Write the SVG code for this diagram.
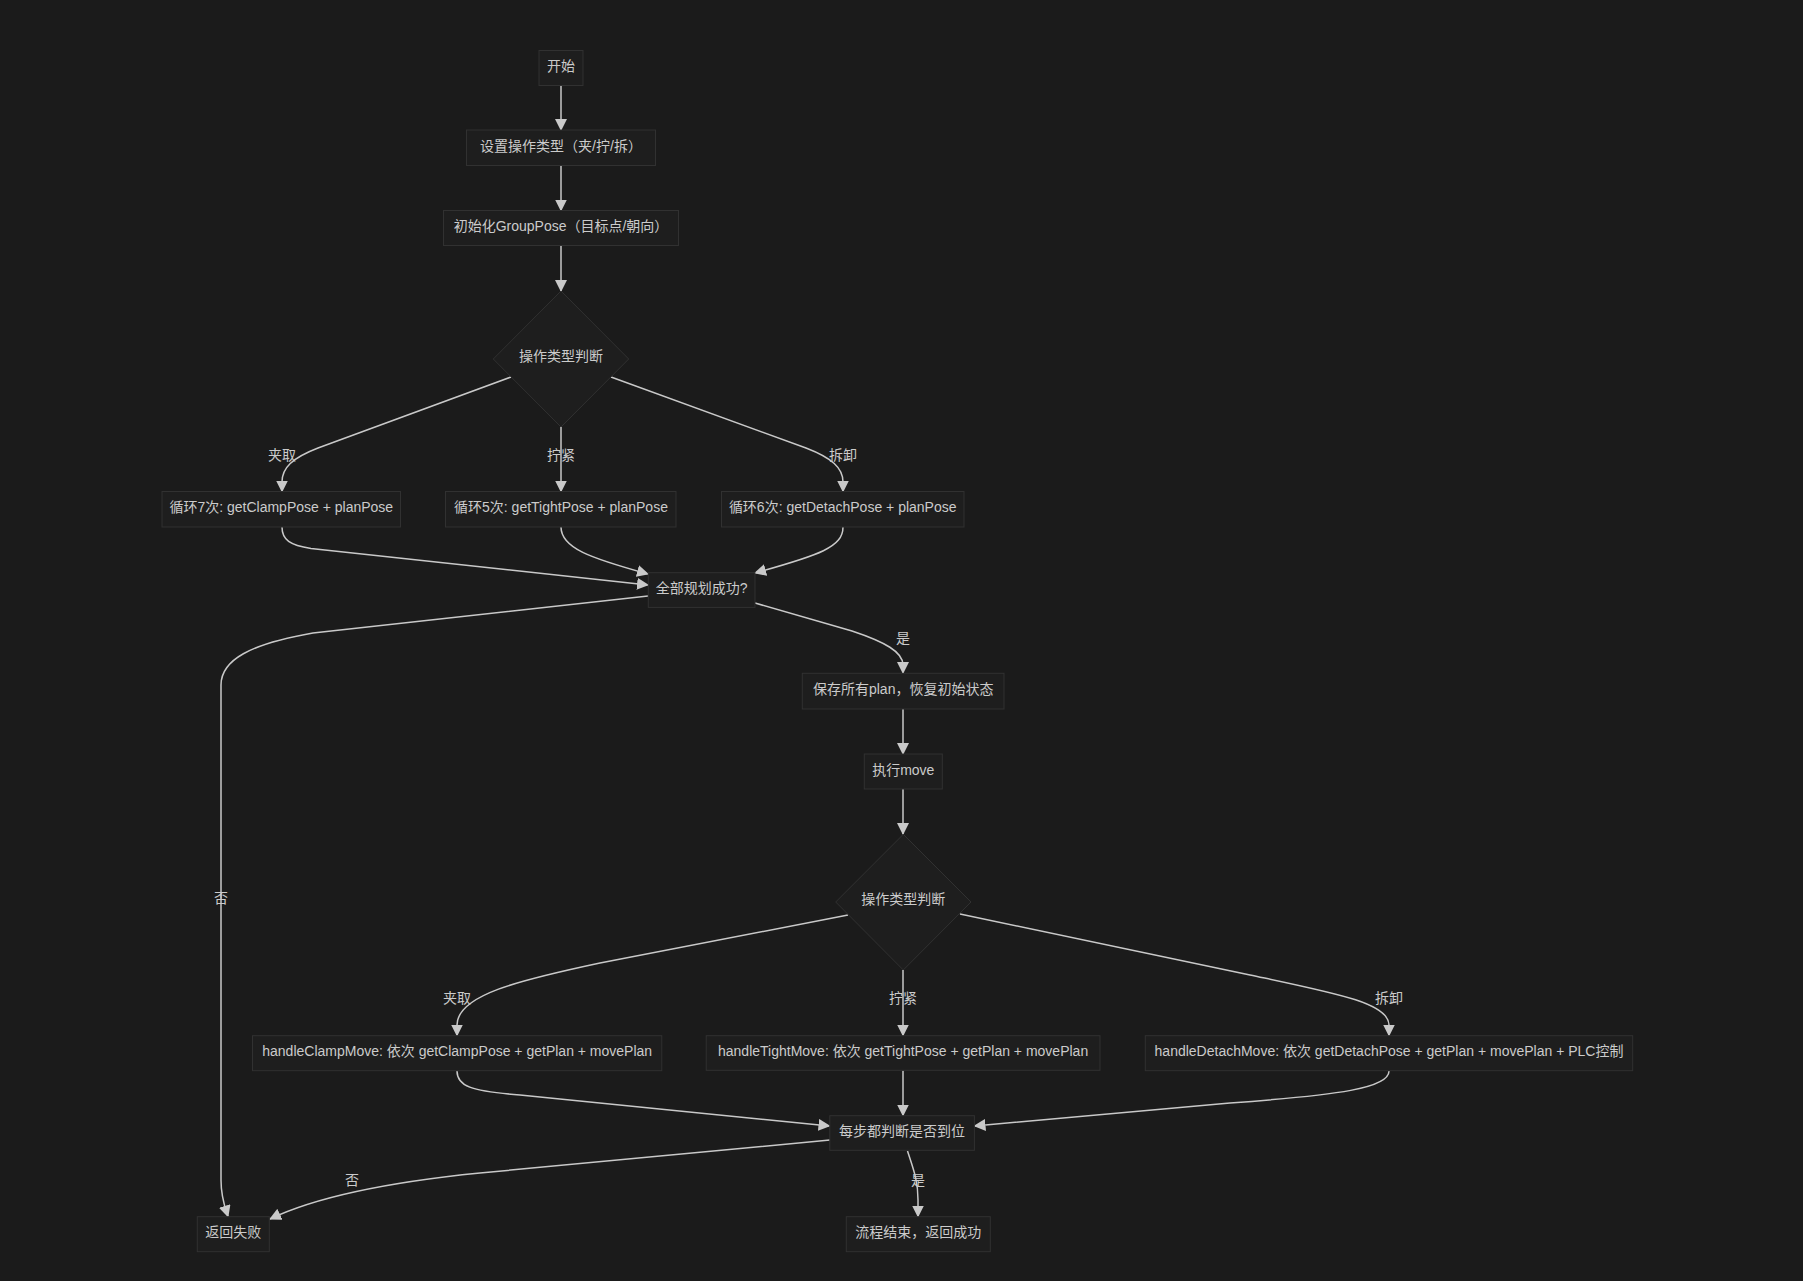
<svg xmlns="http://www.w3.org/2000/svg" width="1803" height="1281" viewBox="0 0 1803 1281">
<defs>
<style>
.bg{fill:#1b1b1b}
.node rect,.node polygon{fill:#1e1e1e;stroke:#313131;stroke-width:1}
.node text{fill:#cbcbcb;font-family:"Liberation Sans","Noto Sans CJK SC",sans-serif;font-size:14px;text-anchor:middle;dominant-baseline:central}
.edges path{fill:none;stroke:#c9c9c9;stroke-width:1.5}
.elabel{fill:#cbcbcb;font-family:"Liberation Sans","Noto Sans CJK SC",sans-serif;font-size:14px;text-anchor:middle;dominant-baseline:central}
</style>
<marker id="arr" viewBox="0 0 12 12" refX="11" refY="6" markerWidth="12" markerHeight="12" markerUnits="userSpaceOnUse" orient="auto">
<path d="M0,0 L12,6 L0,12 z" fill="#c9c9c9"/>
</marker>
</defs>
<rect class="bg" x="0" y="0" width="1803" height="1281"/>

<g class="edges">
<path marker-end="url(#arr)" d="M561,85.5 L561,130"/>
<path marker-end="url(#arr)" d="M561,166 L561,210.5"/>
<path marker-end="url(#arr)" d="M561,246 L561,291"/>
<path marker-end="url(#arr)" d="M511,377 L318,448 C292,458 282,468 282,482 L282,491.5"/>
<path marker-end="url(#arr)" d="M561,427 L561,491.5"/>
<path marker-end="url(#arr)" d="M611,377 L806,448 C832,458 843,468 843,482 L843,491.5"/>
<path marker-end="url(#arr)" d="M282,527 C282,540 290,545 311,548.5 L648,585"/>
<path marker-end="url(#arr)" d="M561,527 C561,548 590,558 648,574"/>
<path marker-end="url(#arr)" d="M843,527 C843,547 820,555 755,573"/>
<path marker-end="url(#arr)" d="M755,603 L852,631 C885,642 903,652 903,665 L903,673"/>
<path marker-end="url(#arr)" d="M648,596 L313,633 C250,644 221,660 221,685 L221,1180 C221,1198 225,1207 228,1216.5"/>
<path marker-end="url(#arr)" d="M903,709 L903,754"/>
<path marker-end="url(#arr)" d="M903,789 L903,834"/>
<path marker-end="url(#arr)" d="M848,915 L600,963 C520,980 457,995 457,1025 L457,1035.5"/>
<path marker-end="url(#arr)" d="M903,970 L903,1035.5"/>
<path marker-end="url(#arr)" d="M960,914 L1250,975 C1335,993 1389,1003 1389,1025 L1389,1035.5"/>
<path marker-end="url(#arr)" d="M457,1071 C457,1086 470,1091 520,1095 L829.5,1126"/>
<path marker-end="url(#arr)" d="M903,1070.5 L903,1115.5"/>
<path marker-end="url(#arr)" d="M1389,1071 C1389,1088 1340,1095 1230,1103 L974.5,1126"/>
<path marker-end="url(#arr)" d="M830,1140 L480,1173 C400,1181 320,1195 270,1219"/>
<path marker-end="url(#arr)" d="M907.5,1151 C913,1168 918,1180 918,1200 L918,1216.5"/>
<text class="elabel" x="282" y="455">夹取</text>
<text class="elabel" x="561" y="455">拧紧</text>
<text class="elabel" x="843" y="455">拆卸</text>
<text class="elabel" x="903" y="637.5">是</text>
<text class="elabel" x="221" y="897.5">否</text>
<text class="elabel" x="457" y="998">夹取</text>
<text class="elabel" x="903" y="998">拧紧</text>
<text class="elabel" x="1389" y="998">拆卸</text>
<text class="elabel" x="352" y="1180">否</text>
<text class="elabel" x="918" y="1180">是</text>
</g>

<g id="start" class="node"><rect x="539" y="50.5" width="44" height="35"/><text x="561" y="66">开始</text></g>
<g id="setType" class="node"><rect x="466.5" y="130" width="189" height="35.5"/><text x="561" y="146">设置操作类型（夹/拧/拆）</text></g>
<g id="initPose" class="node"><rect x="443.5" y="210.5" width="235" height="35"/><text x="561" y="226">初始化GroupPose（目标点/朝向）</text></g>
<g id="judge1" class="node"><polygon points="561,291 628.7,359 561,427 493.3,359"/><text x="561" y="356">操作类型判断</text></g>
<g id="loop7" class="node"><rect x="162" y="491.5" width="238.5" height="35.5"/><text x="281.3" y="507.3">循环7次: getClampPose + planPose</text></g>
<g id="loop5" class="node"><rect x="445.5" y="491.5" width="230.5" height="35.5"/><text x="561" y="507.3">循环5次: getTightPose + planPose</text></g>
<g id="loop6" class="node"><rect x="721.5" y="491.5" width="242.5" height="35.5"/><text x="842.7" y="507.3">循环6次: getDetachPose + planPose</text></g>
<g id="allOk" class="node"><rect x="648.3" y="572.7" width="106.7" height="34.7"/><text x="701.7" y="588">全部规划成功?</text></g>
<g id="save" class="node"><rect x="802.3" y="673.3" width="201.7" height="35.7"/><text x="903.2" y="689.2">保存所有plan，恢复初始状态</text></g>
<g id="exec" class="node"><rect x="864.3" y="754" width="78" height="35"/><text x="903.3" y="769.5">执行move</text></g>
<g id="judge2" class="node"><polygon points="903.3,834.3 971,902 903.3,970 835.7,902"/><text x="903.3" y="899">操作类型判断</text></g>
<g id="hClamp" class="node"><rect x="252.5" y="1035.7" width="409.3" height="35"/><text x="457.2" y="1051.2">handleClampMove: 依次 getClampPose + getPlan + movePlan</text></g>
<g id="hTight" class="node"><rect x="706.2" y="1035.7" width="393.8" height="34.6"/><text x="903.1" y="1051.2">handleTightMove: 依次 getTightPose + getPlan + movePlan</text></g>
<g id="hDetach" class="node"><rect x="1145.3" y="1035.7" width="487.4" height="35"/><text x="1389" y="1051.2">handleDetachMove: 依次 getDetachPose + getPlan + movePlan + PLC控制</text></g>
<g id="checkStep" class="node"><rect x="829.8" y="1115.7" width="144.6" height="34.6"/><text x="902.1" y="1131">每步都判断是否到位</text></g>
<g id="fail" class="node"><rect x="197.3" y="1216.7" width="72" height="35"/><text x="233.3" y="1232.2">返回失败</text></g>
<g id="done" class="node"><rect x="846.3" y="1216.7" width="144" height="35"/><text x="918.3" y="1232.2">流程结束，返回成功</text></g>
</svg>
